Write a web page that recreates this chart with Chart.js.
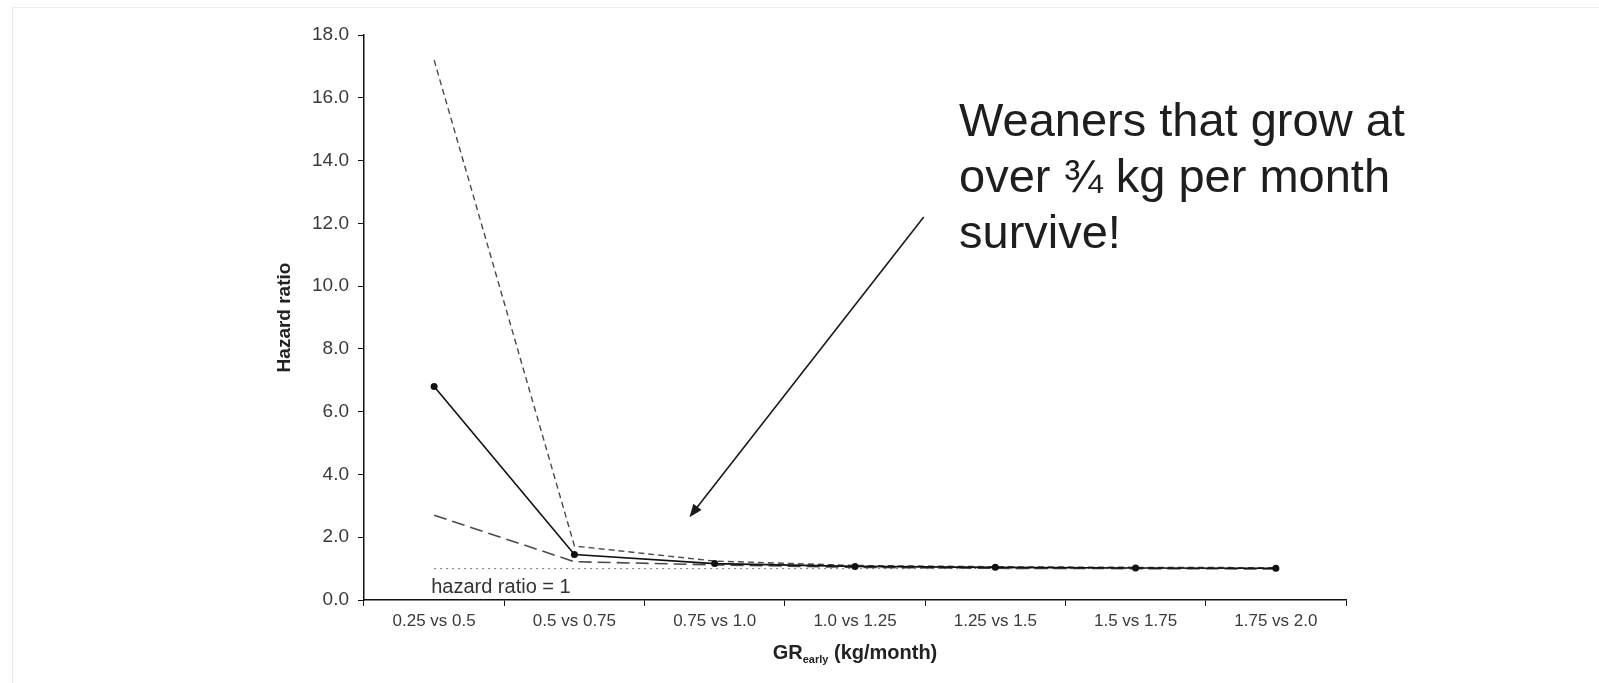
<!DOCTYPE html>
<html>
<head>
<meta charset="utf-8">
<script src="https://cdn.jsdelivr.net/npm/chart.js@4.4.1/dist/chart.umd.min.js"></script>
<style>
  html, body { margin: 0; padding: 0; background: #fff; }
  #wrap { position: relative; width: 1599px; height: 683px; overflow: hidden; }
  #frame { position: absolute; left: 12px; top: 7px; right: -2px; bottom: -2px;
           border-left: 1px solid #e2eae2; border-top: 1px solid #ececec; pointer-events: none; }
  canvas { position: absolute; left: 0; top: 0; }
</style>
</head>
<body>
<div id="wrap">
  <canvas id="hazardChart" width="1599" height="683"></canvas>
  <div id="frame"></div>
</div>
<script>
// categories on the x axis
const categories = ["0.25 vs 0.5", "0.5 vs 0.75", "0.75 vs 1.0", "1.0 vs 1.25", "1.25 vs 1.5", "1.5 vs 1.75", "1.75 vs 2.0"];

// hazard ratio with its confidence bounds
const hazardRatio = [6.8, 1.45, 1.16, 1.07, 1.04, 1.02, 1.01];
const upperCI = [17.2, 1.72, 1.24, 1.10, 1.06, 1.04, 1.03];
const lowerCI = [2.7, 1.22, 1.12, 1.04, 1.01, 1.0, 0.99];
const referenceLine = [1, 1, 1, 1, 1, 1, 1];

// y axis
const yMin = 0;
const yMax = 18;
const yStep = 2;

// annotation
const noteLines = ["Weaners that grow at", "over \u00BE kg per month", "survive!"];
const arrowFrom = { x: 3.49, y: 12.2 };
const arrowTo = { x: 1.82, y: 2.64 };

const family = "'Liberation Sans', Arial, sans-serif";

const decorations = {
  id: "decorations",
  afterDraw(chart) {
    const { ctx, chartArea, scales } = chart;
    const xs = scales.x, ys = scales.y;
    ctx.save();

    // reference line label
    ctx.fillStyle = "#333";
    ctx.font = "20px " + family;
    ctx.textBaseline = "alphabetic";
    ctx.textAlign = "left";
    ctx.fillText("hazard ratio = 1", xs.getPixelForValue(0) - 3, ys.getPixelForValue(1) + 24);

    // x axis title with subscript
    const bold = "bold 20px " + family;
    const sub = "bold 11px " + family;
    ctx.font = bold;
    const w1 = ctx.measureText("GR").width;
    const w3 = ctx.measureText(" (kg/month)").width;
    ctx.font = sub;
    const w2 = ctx.measureText("early").width;
    const cx = (chartArea.left + chartArea.right) / 2;
    let tx = cx - (w1 + w2 + w3) / 2;
    const base = 659;
    ctx.fillStyle = "#222";
    ctx.font = bold;
    ctx.fillText("GR", tx, base);
    tx += w1;
    ctx.font = sub;
    ctx.fillText("early", tx, base + 4);
    tx += w2;
    ctx.font = bold;
    ctx.fillText(" (kg/month)", tx, base);

    // note text
    ctx.font = "47px " + family;
    ctx.fillStyle = "#1e1e1e";
    noteLines.forEach((line, i) => ctx.fillText(line, 959, 136 + i * 56));

    // arrow
    const x0 = xs.getPixelForValue(arrowFrom.x), y0 = ys.getPixelForValue(arrowFrom.y);
    const x1 = xs.getPixelForValue(arrowTo.x), y1 = ys.getPixelForValue(arrowTo.y);
    const ang = Math.atan2(y1 - y0, x1 - x0);
    const head = 14;
    ctx.strokeStyle = "#1a1a1a";
    ctx.lineWidth = 1.6;
    ctx.beginPath();
    ctx.moveTo(x0, y0);
    ctx.lineTo(x1 - Math.cos(ang) * head * 0.8, y1 - Math.sin(ang) * head * 0.8);
    ctx.stroke();
    ctx.fillStyle = "#1a1a1a";
    ctx.beginPath();
    ctx.moveTo(x1, y1);
    ctx.lineTo(x1 - head * Math.cos(ang - 0.38), y1 - head * Math.sin(ang - 0.38));
    ctx.lineTo(x1 - head * Math.cos(ang + 0.38), y1 - head * Math.sin(ang + 0.38));
    ctx.closePath();
    ctx.fill();

    ctx.restore();
  }
};

new Chart(document.getElementById("hazardChart"), {
  type: "line",
  data: {
    labels: categories,
    datasets: [
      {
        label: "Hazard ratio",
        data: hazardRatio,
        borderColor: "#111",
        backgroundColor: "#111",
        borderWidth: 1.6,
        pointRadius: 3.5,
        pointBorderWidth: 0,
        tension: 0,
        order: 0
      },
      {
        label: "Upper",
        data: upperCI,
        borderColor: "#4a4a4a",
        borderWidth: 1.4,
        borderDash: [6, 4],
        pointRadius: 0,
        tension: 0,
        order: 1
      },
      {
        label: "Lower",
        data: lowerCI,
        borderColor: "#4a4a4a",
        borderWidth: 1.6,
        borderDash: [13, 6],
        pointRadius: 0,
        tension: 0,
        order: 2
      },
      {
        label: "Reference",
        data: referenceLine,
        borderColor: "#777",
        borderWidth: 1,
        borderDash: [2, 4],
        pointRadius: 0,
        tension: 0,
        order: 3
      }
    ]
  },
  options: {
    responsive: false,
    animation: false,
    events: [],
    layout: { padding: { left: 273, right: 253, top: 35, bottom: 0 } },
    plugins: {
      legend: { display: false },
      tooltip: { enabled: false }
    },
    scales: {
      x: {
        offset: true,
        grid: { display: true, offset: true, drawOnChartArea: false, drawTicks: true, tickLength: 6, color: "#111" },
        border: { display: true, color: "#111", width: 1.5 },
        ticks: { font: { family, size: 17 }, color: "#3a3a3a", padding: 5, maxRotation: 0, autoSkip: false },
        afterFit(scale) { scale.height = 83; }
      },
      y: {
        min: yMin,
        max: yMax,
        grid: { display: true, drawOnChartArea: false, drawTicks: true, tickLength: 6, color: "#111" },
        border: { display: true, color: "#111", width: 1.5 },
        ticks: {
          stepSize: yStep,
          font: { family, size: 19 },
          color: "#3a3a3a",
          padding: 9,
          callback: (v) => Number(v).toFixed(1)
        },
        title: {
          display: true,
          text: "Hazard ratio",
          color: "#222",
          font: { family, size: 19, weight: "bold" },
          padding: { top: 0, bottom: 0 }
        },
        afterFit(scale) { scale.width = 91; }
      }
    }
  },
  plugins: [decorations]
});
</script>
</body>
</html>
